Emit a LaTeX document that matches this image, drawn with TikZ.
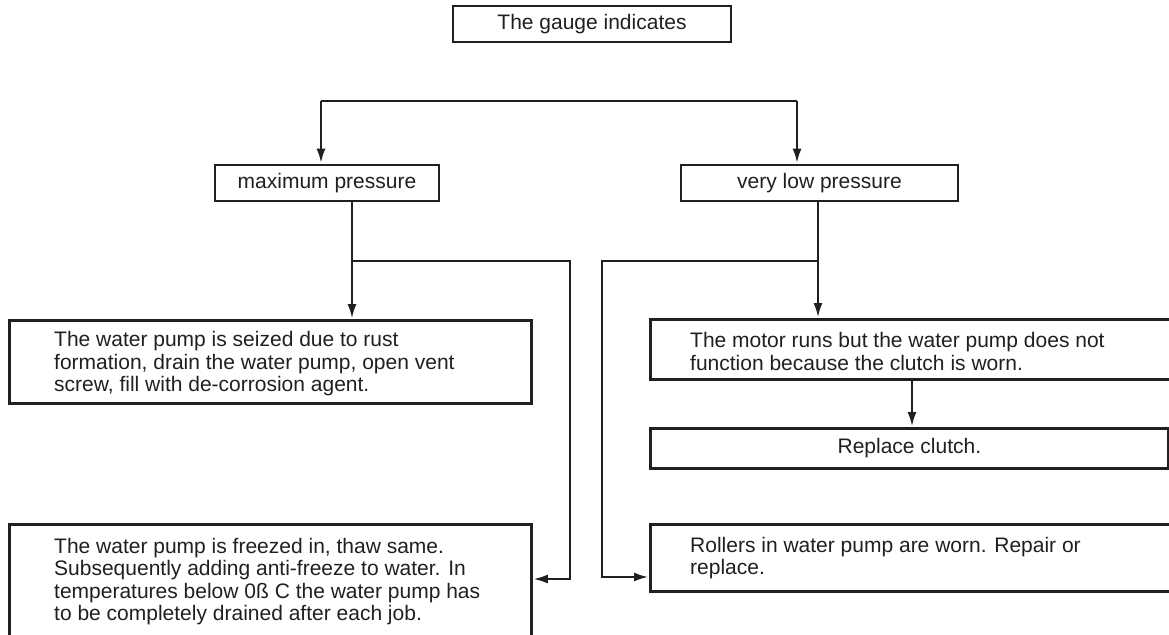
\documentclass[tikz,border=0pt]{standalone}
\usepackage{fontspec}
\setmainfont{Liberation Sans}
\usetikzlibrary{arrows.meta}
\definecolor{ink}{HTML}{231F20}
\begin{document}
\begin{tikzpicture}[x=1pt,y=-1pt,
  box/.style={draw=ink, line width=2.8pt, inner sep=0pt, fill=white},
  txt/.style={align=left, inner sep=0pt, font=\fontsize{21}{22.5}\selectfont, text=ink},
  conn/.style={draw=ink, line width=2.8pt},
  arr/.style={conn, -{Latex[length=15pt,width=9pt]}}]
\useasboundingbox (0,0) rectangle (1169,634);
\clip (0,0) rectangle (1169,634);
\fill[white] (0,0) rectangle (1169,634);

% boxes
\node[box, txt, minimum width=278, minimum height=36] (top) at (592,24) {The gauge indicates};
\node[box, txt, minimum width=224, minimum height=36] (maxp) at (327,183) {maximum pressure};
\node[box, txt, minimum width=277, minimum height=36] (lowp) at (819.5,183) {very low pressure};

\node[box, minimum width=522, minimum height=83, anchor=north west] (seized) at (8,319) {};
\node[txt, anchor=west] (seizedt) at ([xshift=46,yshift=-2]seized.west) {The water pump is seized due to rust\\formation, drain the water pump, open vent\\screw, fill with de-corrosion agent.};

\node[box, minimum width=522, minimum height=140, anchor=north west] (frozen) at (8,523) {};
\node[txt, anchor=north west] (frozent) at ([xshift=46,yshift=-15]frozen.north west) {The water pump is freezed in, thaw same.\\Subsequently adding anti-freeze to water. In\\temperatures below 0ß C the water pump has\\to be completely drained after each job.};

\node[box, minimum width=540, minimum height=60, anchor=north west] (motor) at (649,318) {};
\node[txt, anchor=west] (motort) at ([xshift=41,yshift=-2]motor.west) {The motor runs but the water pump does not\\function because the clutch is worn.};

\node[box, txt, minimum width=518, minimum height=40, anchor=north west] (clutch) at (649,427) {Replace clutch.};

\node[box, minimum width=540, minimum height=67, anchor=north west] (rollers) at (649,523) {};
\node[txt, anchor=west] (rollerst) at ([xshift=41]rollers.west) {Rollers in water pump are worn. Repair or\\replace.};

% connectors
\coordinate (sl) at (321,101);
\coordinate (sr) at (797,101);
\draw[conn] (sl) -- (sr);
\draw[arr] (sl) -- (sl |- maxp.north);
\draw[arr] (sr) -- (sr |- lowp.north);

\coordinate (lj) at (352,261);
\coordinate (lc) at (570,261);
\coordinate (frow) at (0,579);
\draw[conn] (maxp.south -| lj) -- (lj);
\draw[arr] (lj) -- (lj |- seized.north);
\draw[arr] (lj) -- (lc) -- (lc |- frow) -- (frozen.east |- frow);

\coordinate (rj) at (818,261);
\coordinate (rc) at (602,261);
\coordinate (rrow) at (0,577);
\draw[conn] (lowp.south -| rj) -- (rj);
\draw[arr] (rj) -- (rj |- motor.north);
\draw[arr] (rj) -- (rc) -- (rc |- rrow) -- (rollers.west |- rrow);

\coordinate (mc) at (912,0);
\draw[arr] (motor.south -| mc) -- (clutch.north -| mc);
\end{tikzpicture}
\end{document}
